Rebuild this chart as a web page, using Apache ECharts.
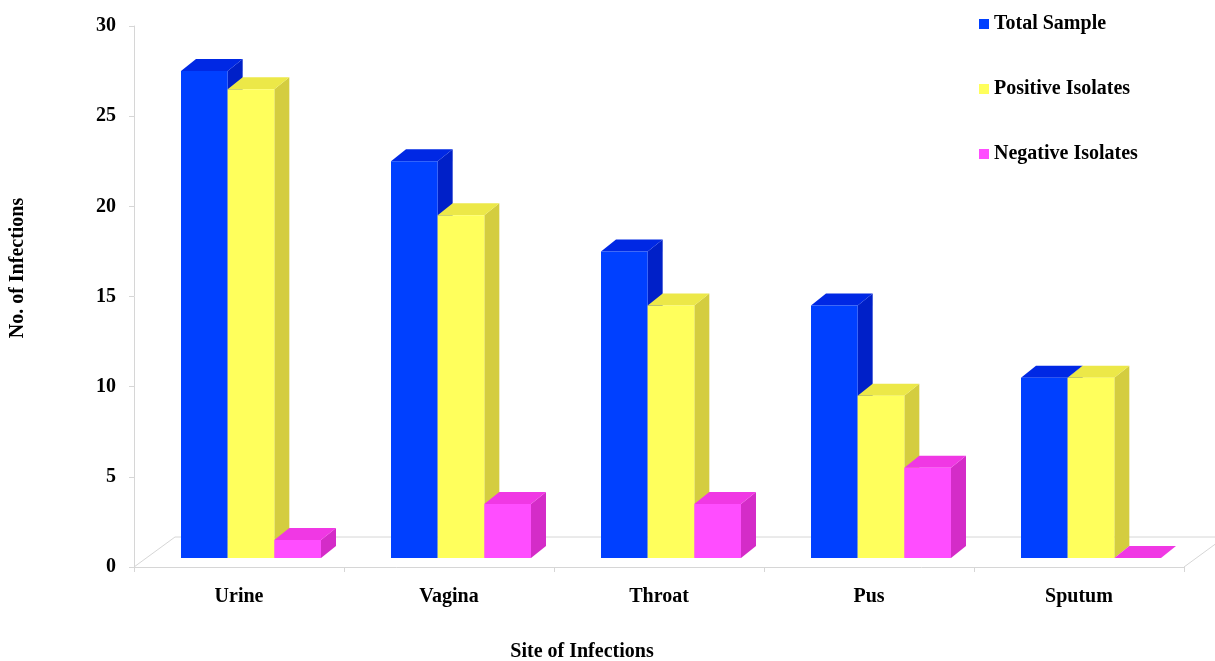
<!DOCTYPE html>
<html>
<head>
<meta charset="utf-8">
<title>Site of Infections</title>
<script src="https://cdn.jsdelivr.net/npm/echarts@6/dist/echarts.min.js"></script>
<style>
  html, body { margin: 0; padding: 0; background: #ffffff; }
  #chart { width: 1215px; height: 661px; }
</style>
</head>
<body>
<div id="chart"></div>
<script>
// Categories and counts per site
const categories = ['Urine', 'Vagina', 'Throat', 'Pus', 'Sputum'];
const totalSample = [27, 22, 17, 14, 10];
const positiveIsolates = [26, 19, 14, 9, 10];
const negativeIsolates = [1, 3, 3, 5, 0];
const seriesNames = ['Total Sample', 'Positive Isolates', 'Negative Isolates'];
const yTicks = { min: 0, max: 30, interval: 5 };

// Face shades for the pseudo-3D columns: front, top, side
const palette = [
  { front: '#0040FF', top: '#0028E4', side: '#0020C8' },
  { front: '#FFFF5C', top: '#ECE848', side: '#D4CD3F' },
  { front: '#FF4DFF', top: '#F038E4', side: '#D42CC8' }
];

// Oblique projection offsets (pixels)
const FLOOR_DX = 41, FLOOR_DY = -30;   // full depth of the floor
const FRONT_DX = 12, FRONT_DY = -9;    // column front face inside the floor
const COL_DX = 15, COL_DY = -12;       // column depth
const GROUP_SLOTS = 4.5;               // 3 columns + 150% gap

const FONT = 'bold 20px "Liberation Serif", "Times New Roman", serif';
const AXIS_GRAY = '#d6d6d6';

function columnRenderer(idx) {
  return function (params, api) {
    const cat = api.value(0);
    const v = api.value(1);
    const pTop = api.coord([cat, v]);
    const pBase = api.coord([cat, 0]);
    const band = api.size([1, 0])[0];
    const bw = band / GROUP_SLOTS;
    const left = pTop[0] + FRONT_DX + (idx - 1.5) * bw;
    const right = left + bw;
    const top = pTop[1] + FRONT_DY;
    const base = pBase[1] + FRONT_DY;
    const c = palette[idx];
    return {
      type: 'group',
      children: [
        {
          type: 'polygon',
          shape: { points: [[right, top], [right + COL_DX, top + COL_DY], [right + COL_DX, base + COL_DY], [right, base]] },
          style: { fill: c.side }
        },
        {
          type: 'polygon',
          shape: { points: [[left, top], [right, top], [right + COL_DX, top + COL_DY], [left + COL_DX, top + COL_DY]] },
          style: { fill: c.top }
        },
        {
          type: 'rect',
          shape: { x: left, y: top, width: bw, height: base - top },
          style: { fill: c.front }
        }
      ]
    };
  };
}

function floorRenderer(params, api) {
  const cs = params.coordSys;
  const x0 = cs.x, x1 = cs.x + cs.width, yb = cs.y + cs.height;
  return {
    type: 'polyline',
    shape: { points: [[x0, yb], [x0 + FLOOR_DX, yb + FLOOR_DY], [x1 + FLOOR_DX, yb + FLOOR_DY], [x1, yb]] },
    style: { stroke: AXIS_GRAY, lineWidth: 1, fill: null }
  };
}

const values = [totalSample, positiveIsolates, negativeIsolates];

const chart = echarts.init(document.getElementById('chart'));
chart.setOption({
  backgroundColor: '#ffffff',
  animation: false,
  grid: { left: 134, right: 31, top: 26, bottom: 94 },
  legend: {
    orient: 'vertical',
    left: 979,
    top: 14,
    padding: 0,
    icon: 'rect',
    itemWidth: 10,
    itemHeight: 10,
    itemGap: 45,
    data: seriesNames.map((n, i) => ({ name: n, itemStyle: { color: palette[i].front } })),
    textStyle: { fontFamily: '"Liberation Serif", "Times New Roman", serif', fontWeight: 'bold', fontSize: 20, lineHeight: 20, color: '#000' }
  },
  xAxis: {
    type: 'category',
    data: categories,
    axisLine: { show: true, lineStyle: { color: AXIS_GRAY } },
    axisTick: { show: true, length: 5, lineStyle: { color: AXIS_GRAY } },
    axisLabel: { margin: 20, fontFamily: '"Liberation Serif", "Times New Roman", serif', fontWeight: 'bold', fontSize: 20, color: '#000' },
    splitLine: { show: false }
  },
  yAxis: {
    type: 'value',
    min: yTicks.min,
    max: yTicks.max,
    interval: yTicks.interval,
    axisLine: { show: true, lineStyle: { color: AXIS_GRAY } },
    axisTick: { show: true, length: 5, lineStyle: { color: AXIS_GRAY } },
    axisLabel: { margin: 18, fontFamily: '"Liberation Serif", "Times New Roman", serif', fontWeight: 'bold', fontSize: 20, color: '#000' },
    splitLine: { show: false }
  },
  graphic: [
    {
      type: 'text', x: 18, y: 268, rotation: Math.PI / 2,
      style: { text: 'No. of Infections', font: FONT, fill: '#000', align: 'center', verticalAlign: 'middle' }
    },
    {
      type: 'text', x: 582, y: 652,
      style: { text: 'Site of Infections', font: FONT, fill: '#000', align: 'center', verticalAlign: 'middle' }
    }
  ],
  series: [
    {
      type: 'custom',
      name: 'floor',
      silent: true,
      clip: false,
      renderItem: floorRenderer,
      data: [[0, 0]],
      z: 1
    }
  ].concat(seriesNames.map((name, i) => ({
    type: 'custom',
    name: name,
    itemStyle: { color: palette[i].front },
    renderItem: columnRenderer(i),
    clip: false,
    z: 2,
    encode: { x: 0, y: 1 },
    data: categories.map((c, k) => [k, values[i][k]])
  })))
});
</script>
</body>
</html>
